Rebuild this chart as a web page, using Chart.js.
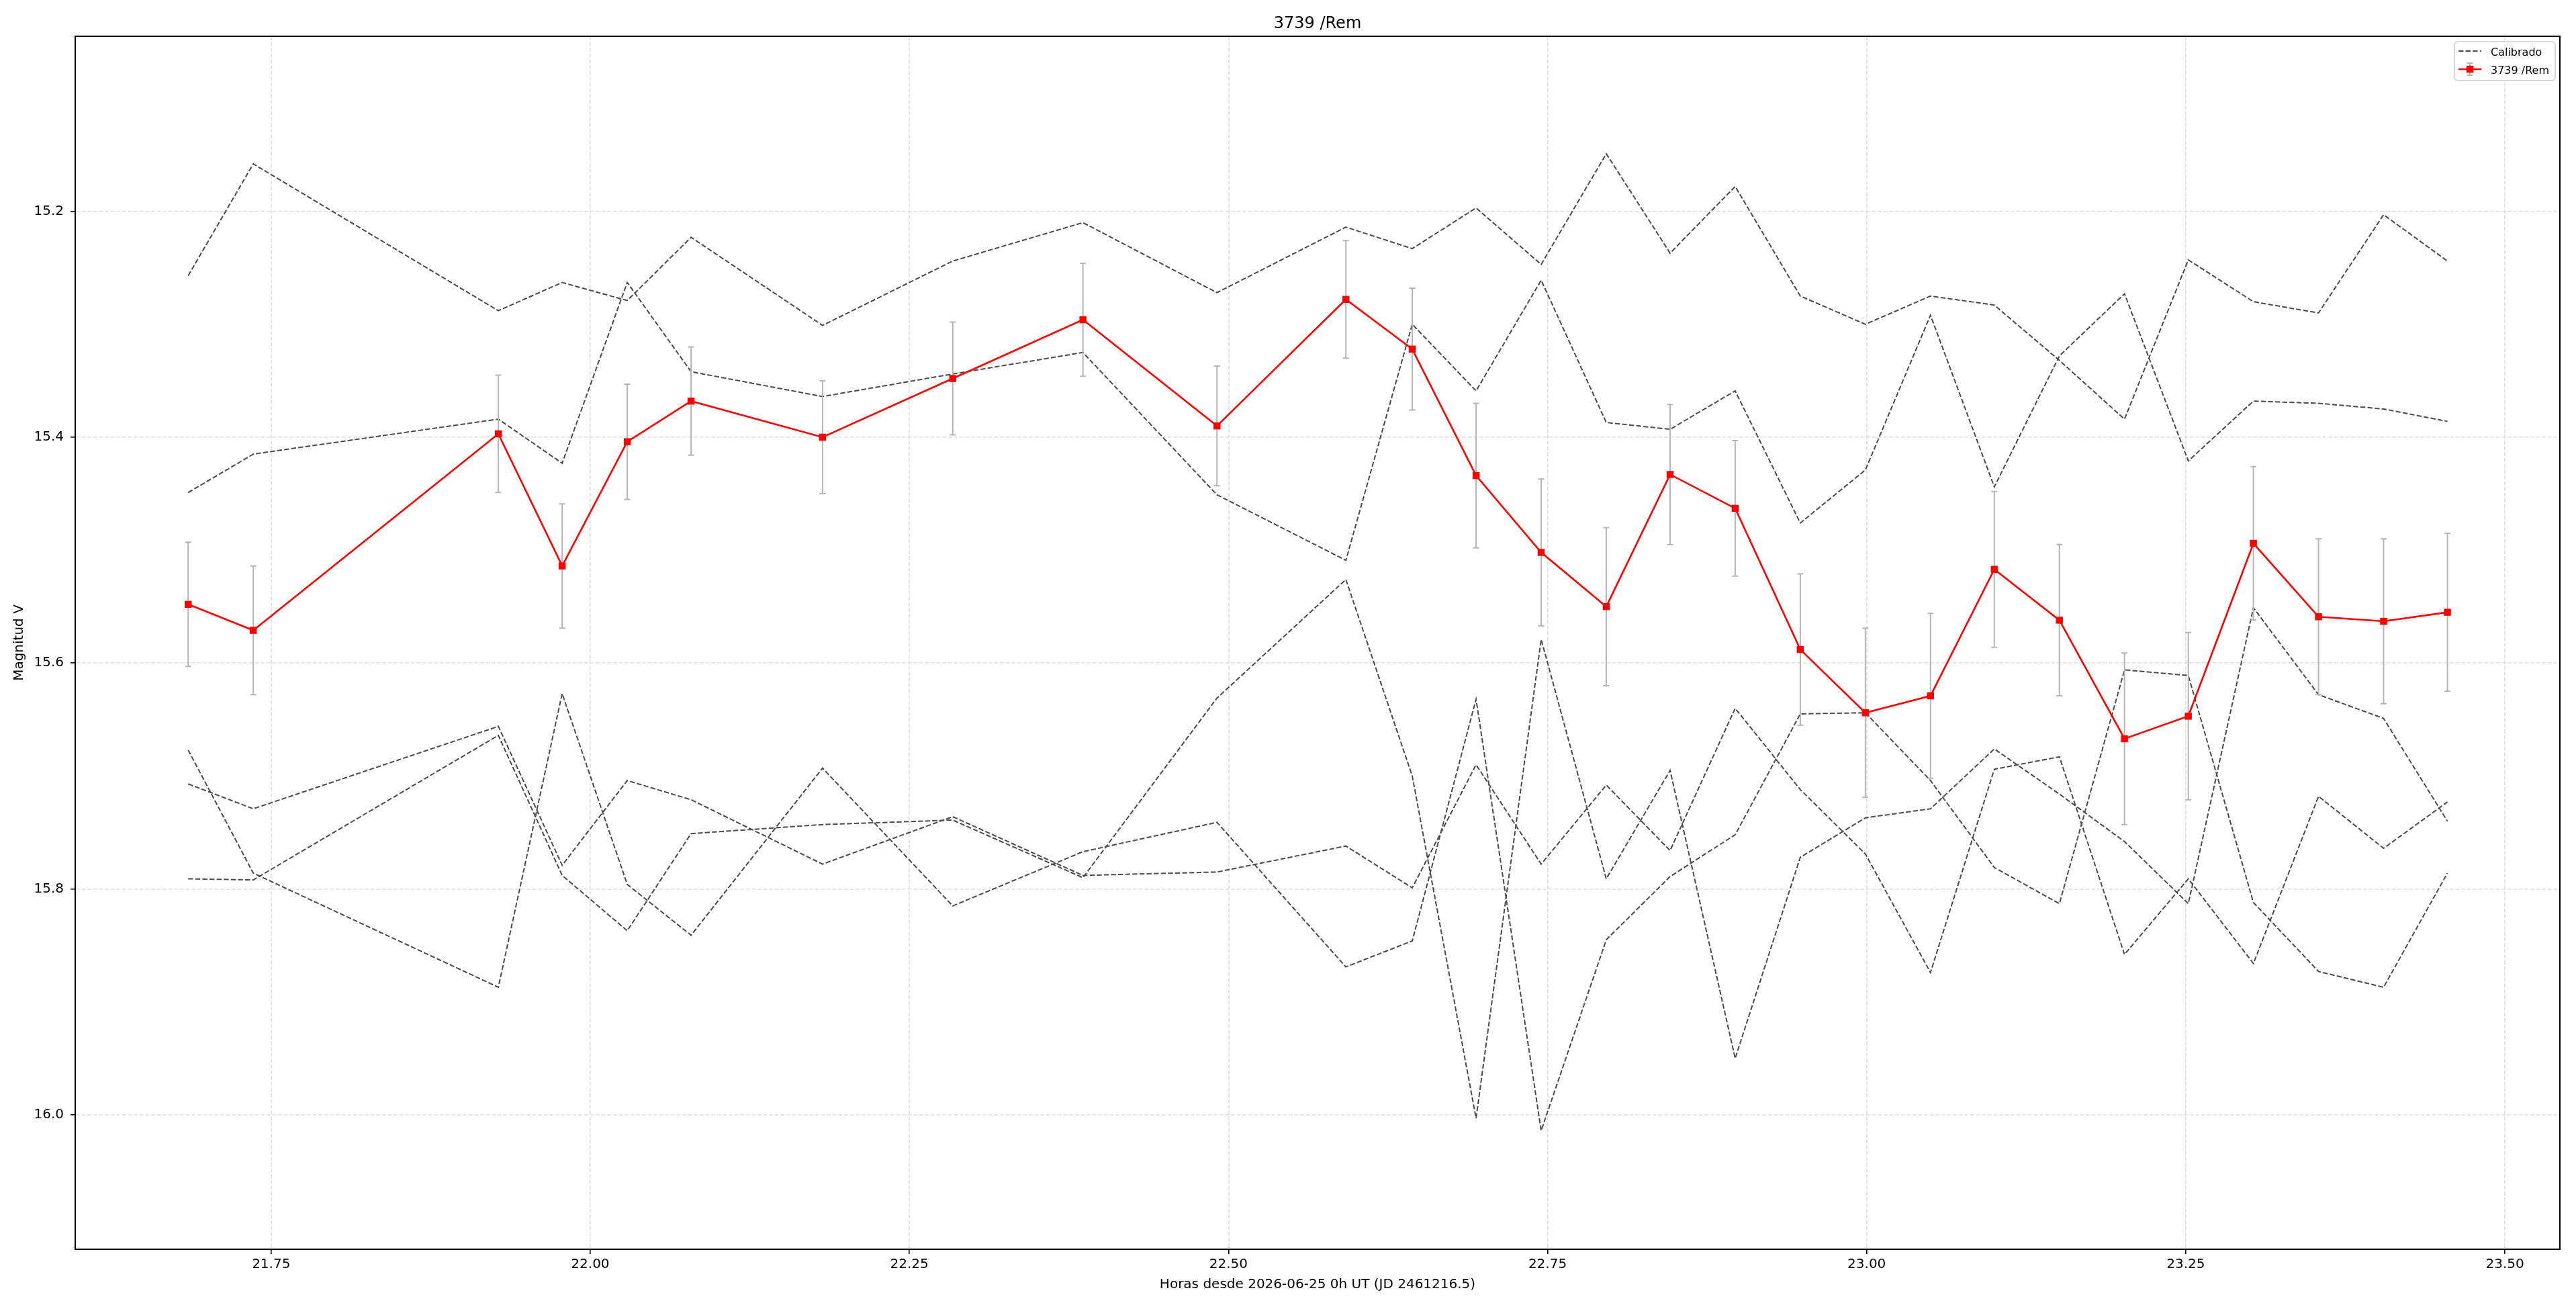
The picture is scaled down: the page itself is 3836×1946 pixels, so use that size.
<!DOCTYPE html>
<html>
<head>
<meta charset="utf-8">
<script src="https://cdn.jsdelivr.net/npm/chart.js@4.4.1/dist/chart.umd.min.js"></script>
<style>
html,body{margin:0;padding:0;background:#ffffff;}
#wrap{width:3836px;height:1946px;position:relative;}
</style>
</head>
<body>
<div id="wrap"><canvas id="c" width="3836" height="1946"></canvas></div>
<script>
// ---- data ----
const chartTitle = '3739 /Rem';
const xAxisLabel = 'Horas desde 2026-06-25 0h UT (JD 2461216.5)';
const yAxisLabel = 'Magnitud V';
const legendLabels = ['Calibrado', '3739 /Rem'];

const hours = [21.685, 21.736, 21.928, 21.978, 22.029, 22.079, 22.182, 22.284, 22.386, 22.491,
               22.592, 22.644, 22.694, 22.745, 22.796, 22.846, 22.897, 22.948, 22.999, 23.050,
               23.100, 23.151, 23.202, 23.252, 23.303, 23.354, 23.405, 23.455];

const target = [15.548, 15.571, 15.397, 15.514, 15.404, 15.368, 15.400, 15.348, 15.296, 15.390,
                15.278, 15.322, 15.434, 15.502, 15.550, 15.433, 15.463, 15.588, 15.644, 15.629,
                15.517, 15.562, 15.667, 15.647, 15.494, 15.559, 15.563, 15.555];

const targetErr = [0.055, 0.057, 0.052, 0.055, 0.051, 0.048, 0.050, 0.050, 0.050, 0.053,
                   0.052, 0.054, 0.064, 0.065, 0.070, 0.062, 0.060, 0.067, 0.075, 0.073,
                   0.069, 0.067, 0.076, 0.074, 0.068, 0.069, 0.073, 0.070];

const cal1 = [15.257, 15.158, 15.288, 15.263, 15.279, 15.223, 15.301, 15.244, 15.210, 15.272,
              15.214, 15.233, 15.197, 15.247, 15.149, 15.237, 15.178, 15.275, 15.300, 15.275,
              15.283, 15.332, 15.384, 15.243, 15.280, 15.290, 15.203, 15.244];
const cal2 = [15.449, 15.415, 15.384, 15.423, 15.263, 15.342, 15.364, 15.344, 15.325, 15.451,
              15.509, 15.300, 15.359, 15.261, 15.387, 15.393, 15.359, 15.476, 15.429, 15.292,
              15.444, 15.328, 15.273, 15.421, 15.368, 15.370, 15.375, 15.386];
const cal3 = [15.707, 15.729, 15.656, 15.779, 15.704, 15.721, 15.778, 15.736, 15.788, 15.785,
              15.762, 15.799, 15.690, 15.778, 15.708, 15.766, 15.640, 15.712, 15.769, 15.874,
              15.694, 15.683, 15.858, 15.791, 15.866, 15.718, 15.764, 15.723];
const cal4 = [15.677, 15.786, 15.887, 15.627, 15.796, 15.841, 15.693, 15.815, 15.767, 15.741,
              15.869, 15.846, 15.632, 16.014, 15.845, 15.789, 15.752, 15.645, 15.644, 15.704,
              15.781, 15.813, 15.606, 15.611, 15.812, 15.873, 15.887, 15.786];
const cal5 = [15.791, 15.792, 15.664, 15.788, 15.837, 15.751, 15.743, 15.739, 15.790, 15.631,
              15.526, 15.700, 16.003, 15.579, 15.791, 15.695, 15.950, 15.772, 15.737, 15.729,
              15.676, 15.716, 15.758, 15.813, 15.551, 15.628, 15.649, 15.740];

const xTickValues = [21.75, 22.00, 22.25, 22.50, 22.75, 23.00, 23.25, 23.50];
const yTickValues = [15.2, 15.4, 15.6, 15.8, 16.0];
const xRange = [21.5965, 23.5431];
const yRange = [15.045, 16.119];

// ---- styling ----
const FONT = "'DejaVu Sans', 'Liberation Sans', sans-serif";
const CAL_COLOR = '#4a4a4a';
const CAL_DASH = [7.4, 3.2];
const RED = '#ff0000';
const ERR_COLOR = '#b5b5b5';
const GRID_COLOR = '#dedede';

const toXY = arr => arr.map((v, i) => ({x: hours[i], y: v}));

const calSets = [cal1, cal2, cal3, cal4, cal5].map((arr, k) => ({
  label: legendLabels[0] + (k ? '_' + k : ''),
  data: toXY(arr),
  borderColor: CAL_COLOR,
  borderWidth: 2,
  borderDash: CAL_DASH,
  pointRadius: 0,
  fill: false,
  tension: 0,
  order: 1
}));

const redSet = {
  label: legendLabels[1],
  data: toXY(target),
  borderColor: RED,
  backgroundColor: RED,
  borderWidth: 2.6,
  pointStyle: 'rect',
  pointRadius: 7.4,
  pointBorderWidth: 0,
  pointBackgroundColor: RED,
  fill: false,
  tension: 0,
  order: 0
};

const errorBars = {
  id: 'errorBars',
  beforeDatasetDraw(chart, args) {
    if (args.index !== 0) return;
    const xs = chart.scales.x, ys = chart.scales.y, ctx = chart.ctx;
    ctx.save();
    ctx.strokeStyle = ERR_COLOR;
    ctx.lineWidth = 2;
    for (let i = 0; i < hours.length; i++) {
      const px = xs.getPixelForValue(hours[i]);
      const y1 = ys.getPixelForValue(target[i] - targetErr[i]);
      const y2 = ys.getPixelForValue(target[i] + targetErr[i]);
      ctx.beginPath();
      ctx.moveTo(px, y1); ctx.lineTo(px, y2);
      ctx.moveTo(px - 4.5, y1); ctx.lineTo(px + 4.5, y1);
      ctx.moveTo(px - 4.5, y2); ctx.lineTo(px + 4.5, y2);
      ctx.stroke();
    }
    ctx.restore();
  }
};

const frameTitleLegend = {
  id: 'frameTitleLegend',
  afterDraw(chart) {
    const ctx = chart.ctx, a = chart.chartArea;
    ctx.save();
    // frame
    ctx.strokeStyle = '#000';
    ctx.lineWidth = 2;
    ctx.strokeRect(a.left, a.top, a.right - a.left, a.bottom - a.top);
    // title
    ctx.fillStyle = '#000';
    ctx.font = '24px ' + FONT;
    ctx.textAlign = 'center';
    ctx.textBaseline = 'alphabetic';
    ctx.fillText(chartTitle, (a.left + a.right) / 2, 42);
    // legend
    const bx = a.right - 157, by = a.top + 8, bw = 150, bh = 58;
    ctx.beginPath();
    ctx.roundRect(bx, by, bw, bh, 5);
    ctx.fillStyle = 'rgba(255,255,255,0.85)';
    ctx.fill();
    ctx.strokeStyle = '#cccccc';
    ctx.lineWidth = 1.6;
    ctx.stroke();
    const lx0 = bx + 6, lx1 = bx + 40, lxc = (lx0 + lx1) / 2;
    const r1 = by + 14, r2 = by + 41;
    ctx.strokeStyle = CAL_COLOR; ctx.lineWidth = 2; ctx.setLineDash(CAL_DASH);
    ctx.beginPath(); ctx.moveTo(lx0, r1); ctx.lineTo(lx1, r1); ctx.stroke();
    ctx.setLineDash([]);
    ctx.strokeStyle = ERR_COLOR; ctx.lineWidth = 2;
    ctx.beginPath();
    ctx.moveTo(lxc, r2 - 9); ctx.lineTo(lxc, r2 + 9);
    ctx.moveTo(lxc - 4.5, r2 - 9); ctx.lineTo(lxc + 4.5, r2 - 9);
    ctx.moveTo(lxc - 4.5, r2 + 9); ctx.lineTo(lxc + 4.5, r2 + 9);
    ctx.stroke();
    ctx.strokeStyle = RED; ctx.lineWidth = 2.6;
    ctx.beginPath(); ctx.moveTo(lx0, r2); ctx.lineTo(lx1, r2); ctx.stroke();
    ctx.fillStyle = RED; ctx.fillRect(lxc - 5.2, r2 - 5.2, 10.4, 10.4);
    ctx.fillStyle = '#000';
    ctx.font = '16px ' + FONT;
    ctx.textAlign = 'left';
    ctx.textBaseline = 'alphabetic';
    ctx.fillText(legendLabels[0], bx + 54, r1 + 7);
    ctx.fillText(legendLabels[1], bx + 54, r2 + 7);
    ctx.restore();
  }
};

new Chart(document.getElementById('c'), {
  type: 'line',
  data: { datasets: [redSet, ...calSets] },
  options: {
    responsive: false,
    devicePixelRatio: 1,
    animation: false,
    layout: { padding: { top: 54, right: 24, bottom: 0, left: 0 } },
    plugins: { legend: { display: false }, title: { display: false }, tooltip: { enabled: false } },
    scales: {
      x: {
        type: 'linear',
        min: xRange[0], max: xRange[1],
        afterBuildTicks: s => { s.ticks = xTickValues.map(v => ({value: v})); },
        afterFit: s => { s.height = 86; },
        ticks: {
          callback: v => Number(v).toFixed(2),
          autoSkip: false, maxRotation: 0, minRotation: 0,
          color: '#000', padding: 4,
          font: { family: FONT, size: 20 }
        },
        grid: { color: GRID_COLOR, lineWidth: 1.6, tickLength: 7, tickColor: '#000', tickWidth: 1.6 },
        border: { display: true, color: '#000', width: 2, dash: [6, 2.6] },
        title: {
          display: true, text: xAxisLabel, color: '#000',
          font: { family: FONT, size: 20 }, padding: { top: 0, bottom: 21 }
        }
      },
      y: {
        type: 'linear',
        reverse: true,
        min: yRange[0], max: yRange[1],
        afterBuildTicks: s => { s.ticks = yTickValues.map(v => ({value: v})); },
        afterFit: s => { s.width = 112; },
        ticks: {
          callback: v => Number(v).toFixed(1),
          color: '#000', padding: 10,
          font: { family: FONT, size: 20 }
        },
        grid: { color: GRID_COLOR, lineWidth: 1.6, tickLength: 7, tickColor: '#000', tickWidth: 1.6 },
        border: { display: true, color: '#000', width: 2, dash: [6, 2.6] },
        title: {
          display: true, text: yAxisLabel, color: '#000',
          font: { family: FONT, size: 20 }, padding: { top: 17, bottom: 0 }
        }
      }
    }
  },
  plugins: [errorBars, frameTitleLegend]
});
</script>
</body>
</html>
